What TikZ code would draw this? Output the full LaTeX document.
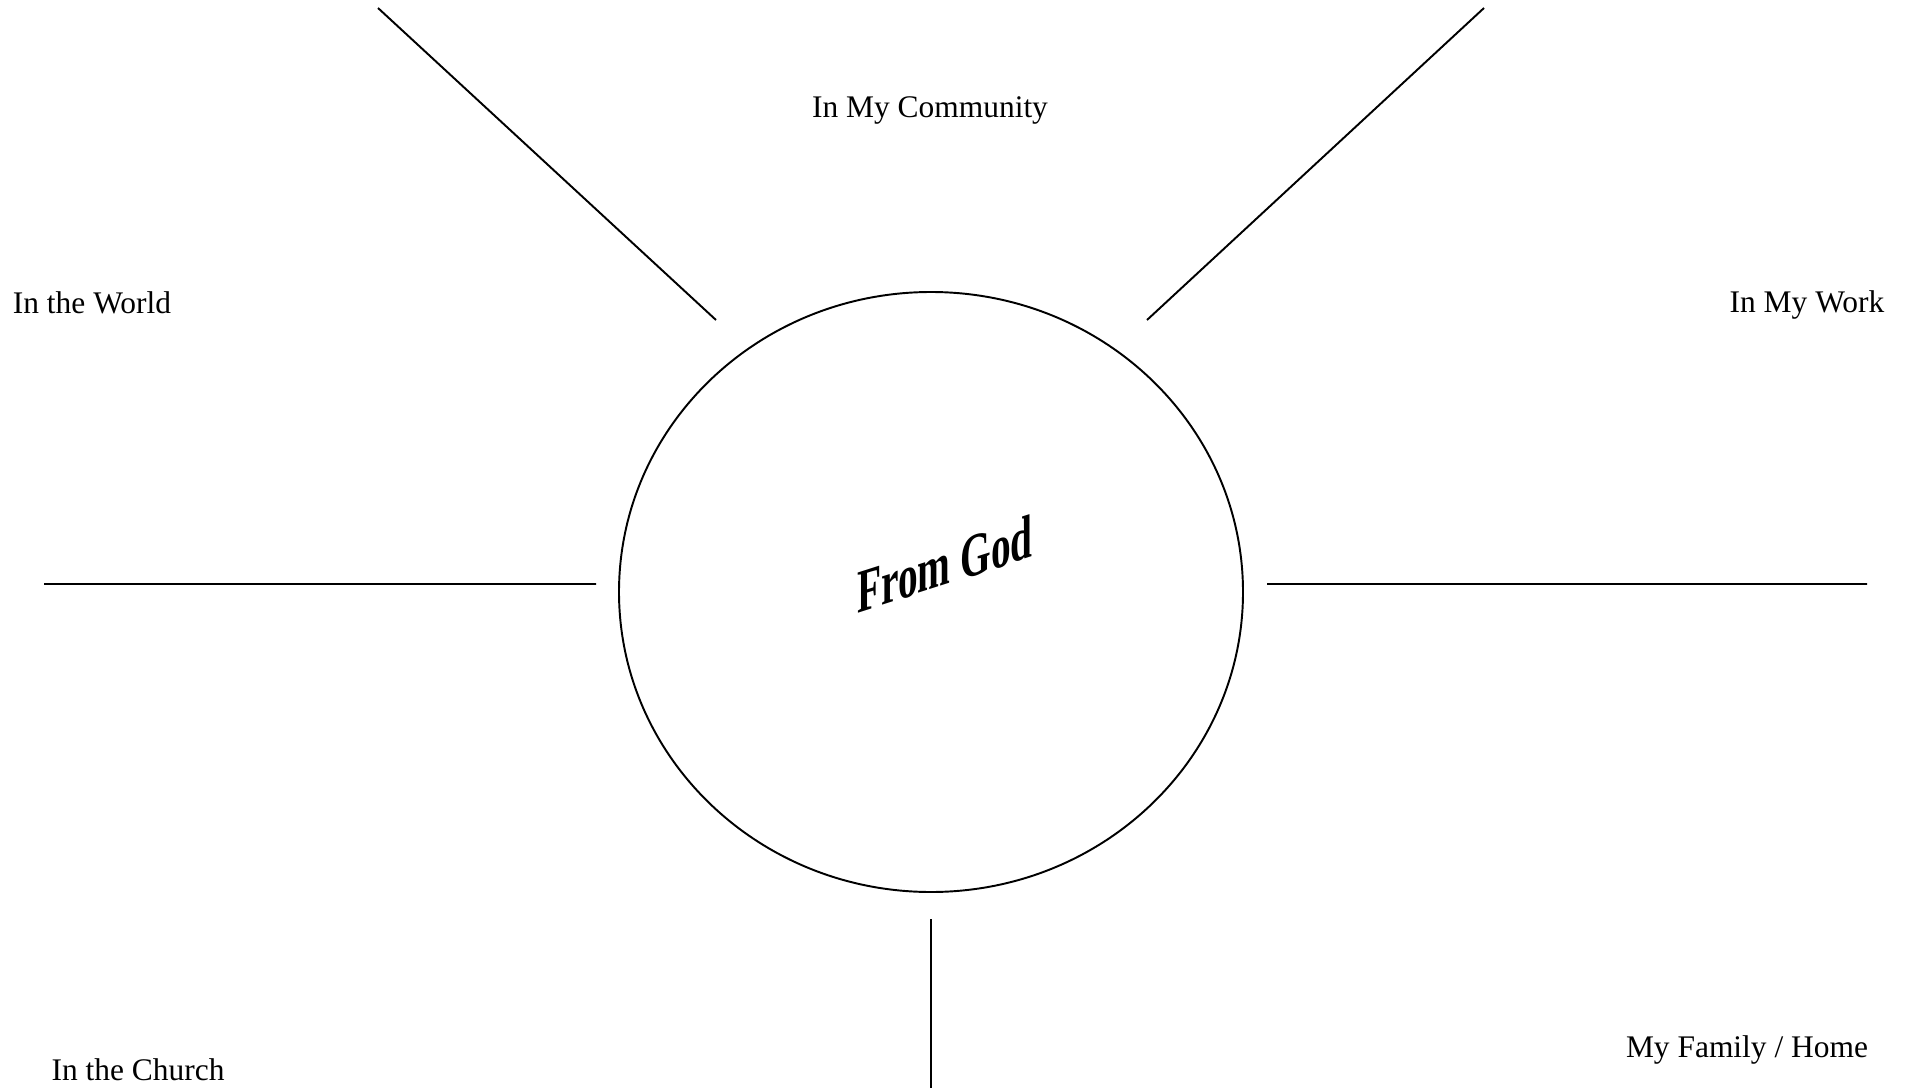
\documentclass[tikz,border=0pt]{standalone}
\usepackage{fontspec}
\setmainfont{Liberation Serif}
\begin{document}
\begin{tikzpicture}[x=0.02cm,y=-0.02cm,line width=1.1pt,font=\fontsize{17.9}{20}\selectfont]
			\useasboundingbox (0,0) rectangle (1910,1088);
			\path (931,592) coordinate (O)
			(378,8) coordinate (A) (716,320) coordinate (A_1)
			(1484,8) coordinate (B) (1147,320) coordinate (B_1)
			(44,584) coordinate (C) (596,584) coordinate (C_1)
			(1267,584) coordinate (D) (1867,584) coordinate (D_1)
			(931,919) coordinate (E) (931,1088) coordinate (E_1);
			\draw (O) ellipse [x radius=312, y radius=300];
			\draw (A)--(A_1) (B)--(B_1) (C)--(C_1) (D)--(D_1) (E)--(E_1);
			\node (god) [anchor=base,cm={0.64,0.205,0,1,(0,0)},font=\fontsize{35}{40}\selectfont\bfseries] at (945,585) {From God};
			\foreach \x/\y/\n/\t in {930/117/community/In My Community,92/313/world/In the World,
				1807/312/work/In My Work,138/1080/church/In the Church,1747/1057/family/{My Family / Home}}{
				\node (\n) [anchor=base] at (\x,\y) {\t};
			}
	\end{tikzpicture}
\end{document}
